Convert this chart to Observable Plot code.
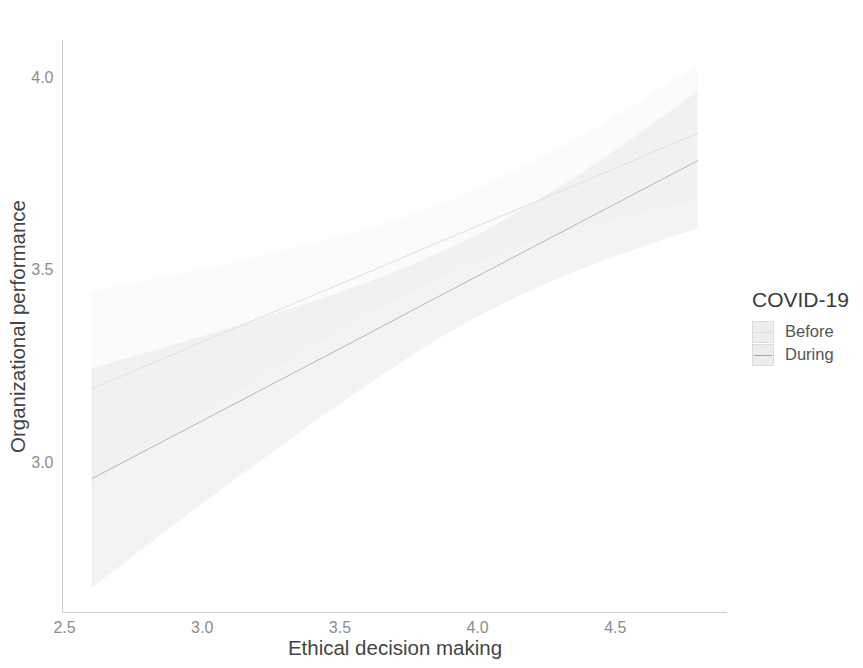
<!DOCTYPE html>
<html>
<head>
<meta charset="utf-8">
<script src="https://cdn.jsdelivr.net/npm/d3@7"></script>
<script src="https://cdn.jsdelivr.net/npm/@observablehq/plot@0.6"></script>
<style>
  html, body { margin: 0; padding: 0; background: #ffffff; }
  #wrap { position: relative; width: 863px; height: 668px; font-family: "Liberation Sans", Arial, sans-serif; }
  #chart { position: absolute; left: 0; top: 0; }
  #legend { position: absolute; left: 752px; top: 288px; color: #444; }
  #legend .title { font-size: 21px; margin-bottom: 8px; color: #3a3a3a; line-height: 24px; }
  #legend .row { display: flex; align-items: center; height: 23px; }
  #legend .key { width: 22px; height: 22px; background: #ededed; border: 1px solid #dcdcdc; position: relative; box-sizing: border-box; }
  #legend .key span { position: absolute; left: 1px; right: 1px; top: 10px; height: 1px; }
  #legend .lab { font-size: 16.5px; margin-left: 11px; color: #555; }
</style>
</head>
<body>
<div id="wrap">
  <div id="chart"></div>
  <div id="legend"></div>
</div>
<script>
// ---- data ----
const xs = [2.6, 2.8, 3.0, 3.2, 3.4, 3.6, 3.8, 4.0, 4.2, 4.4, 4.6, 4.8];

const beforeFit  = [3.192, 3.252, 3.313, 3.373, 3.433, 3.493, 3.554, 3.614, 3.674, 3.734, 3.795, 3.855];
const beforeLow  = [2.942, 3.033, 3.125, 3.213, 3.299, 3.381, 3.456, 3.519, 3.570, 3.612, 3.649, 3.681];
const beforeHigh = [3.442, 3.471, 3.501, 3.533, 3.567, 3.605, 3.652, 3.709, 3.778, 3.856, 3.941, 4.029];

const duringFit  = [2.958, 3.033, 3.108, 3.183, 3.258, 3.333, 3.409, 3.484, 3.559, 3.634, 3.709, 3.784];
const duringLow  = [2.673, 2.782, 2.890, 2.996, 3.100, 3.200, 3.294, 3.377, 3.447, 3.507, 3.559, 3.606];
const duringHigh = [3.243, 3.284, 3.326, 3.370, 3.416, 3.466, 3.524, 3.591, 3.671, 3.761, 3.859, 3.962];

const groups = ["Before", "During"];
const xTicks = [2.5, 3.0, 3.5, 4.0, 4.5];
const yTicks = [3.0, 3.5, 4.0];
const xTitle = "Ethical decision making";
const yTitle = "Organizational performance";
const legendTitle = "COVID-19";

// ---- build tables ----
const toRows = (fit, lo, hi) => xs.map((x, i) => ({x, fit: fit[i], lo: lo[i], hi: hi[i]}));
const before = toRows(beforeFit, beforeLow, beforeHigh);
const during = toRows(duringFit, duringLow, duringHigh);

const xDomain = [2.4927, 4.9074];
const yDomain = [2.610, 4.096];

const styles = {
  Before: {fill: "#ebebeb", fillOpacity: 0.22, stroke: "#dedede"},
  During: {fill: "#e2e2e2", fillOpacity: 0.42, stroke: "#a6a6a6"}
};

const chart = Plot.plot({
  width: 740,
  height: 668,
  marginLeft: 62,
  marginRight: 13,
  marginTop: 40,
  marginBottom: 56,
  style: {fontFamily: "'Liberation Sans', Arial, sans-serif", background: "transparent"},
  x: {domain: xDomain},
  y: {domain: yDomain},
  marks: [
    Plot.areaY(before, {x: "x", y1: "lo", y2: "hi", fill: styles.Before.fill, fillOpacity: styles.Before.fillOpacity, curve: "monotone-x"}),
    Plot.lineY(before, {x: "x", y: "fit", stroke: styles.Before.stroke, strokeWidth: 1, curve: "monotone-x"}),
    Plot.areaY(during, {x: "x", y1: "lo", y2: "hi", fill: styles.During.fill, fillOpacity: styles.During.fillOpacity, curve: "monotone-x"}),
    Plot.lineY(during, {x: "x", y: "fit", stroke: styles.During.stroke, strokeWidth: 0.8, curve: "monotone-x"}),
    Plot.ruleX([xDomain[0]], {stroke: "#cfcfcf", strokeWidth: 1}),
    Plot.ruleY([yDomain[0]], {stroke: "#cfcfcf", strokeWidth: 1}),
    Plot.axisX({ticks: xTicks, tickSize: 0, tickPadding: 9, tickFormat: d3.format(".1f"), label: null, fontSize: 16, color: "#8c8c8c"}),
    Plot.axisY({ticks: yTicks, tickSize: 0, tickPadding: 9, tickFormat: d3.format(".1f"), label: null, fontSize: 16, color: "#8c8c8c"}),
    Plot.text([xTitle], {frameAnchor: "bottom", dy: 42, fontSize: 20.5, fill: "#444"}),
    Plot.text([yTitle], {frameAnchor: "left", dx: -44, rotate: -90, textAnchor: "middle", fontSize: 20.5, fill: "#444"})
  ]
});
document.getElementById("chart").appendChild(chart);

// ---- legend ----
const leg = document.getElementById("legend");
const t = document.createElement("div");
t.className = "title";
t.textContent = legendTitle;
leg.appendChild(t);
groups.forEach(g => {
  const row = document.createElement("div");
  row.className = "row";
  const key = document.createElement("div");
  key.className = "key";
  const ln = document.createElement("span");
  ln.style.background = styles[g].stroke;
  key.appendChild(ln);
  const lab = document.createElement("div");
  lab.className = "lab";
  lab.textContent = g;
  row.appendChild(key);
  row.appendChild(lab);
  leg.appendChild(row);
});
</script>
</body>
</html>
